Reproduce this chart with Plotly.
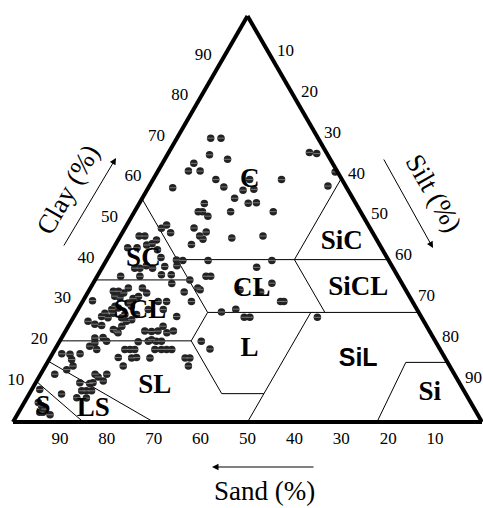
import plotly.graph_objects as go

# ---- sample data (sand, silt, clay in %) ----
SAND = [22.9, 20.7, 25.2, 21.9, 29.6, 31.7, 29.2, 26.9, 19.7, 12.9, 26.1, 37.1, 22.4, 20.0, 25.2, 22.9, 21.1, 32.3,
        34.6, 33.7, 33.1, 27.7, 18.6, 37.5, 35.4, 37.3, 37.0, 30.7, 23.8, 40.1, 3.6, 2.2, 0.5, 3.8, 38.5, 29.0, 24.9,
        45.2, 43.9, 45.8, 43.0, 44.5, 43.1, 50.2, 49.0, 47.0, 54.1, 52.1, 49.7, 48.4, 48.0, 48.2, 51.3, 48.5, 54.0,
        55.1, 55.0, 59.1, 50.2, 48.1, 49.1, 44.8, 44.1, 47.5, 47.1, 52.3, 40.9, 39.9, 43.8, 35.3, 31.2, 27.7, 28.1,
        27.4, 42.0, 38.6, 37.8, 36.6, 22.2, 68.1, 62.5, 61.4, 60.5, 58.9, 55.9, 55.6, 62.8, 61.9, 59.2, 57.8, 54.2,
        52.4, 60.8, 60.5, 64.0, 63.5, 67.0, 68.1, 66.9, 65.2, 62.9, 60.4, 57.3, 54.1, 52.1, 71.6, 70.5, 69.2, 67.2,
        66.7, 60.7, 59.3, 57.9, 56.2, 54.6, 56.2, 64.0, 63.4, 62.1, 65.1, 65.0, 66.6, 72.2, 70.4, 70.1, 72.8, 74.3,
        73.2, 67.2, 66.1, 65.1, 69.6, 66.8, 65.7, 69.6, 61.2, 60.3, 59.5, 58.4, 60.8, 59.4, 58.3, 57.2, 62.9, 63.4,
        55.4, 54.4, 55.7, 49.9, 49.0, 81.2, 79.5, 77.3, 79.8, 80.3, 82.1, 85.2, 76.6, 76.3, 74.1, 75.7, 78.1, 80.9,
        78.9, 81.5, 79.4, 80.5, 86.2, 83.4, 81.4, 90.3, 92.2, 91.9, 93.1, 92.4, 91.6, 91.2]
SILT = [7.2, 9.4, 9.0, 13.4, 6.7, 6.5, 9.0, 13.4, 20.6, 27.4, 16.0, 5.2, 20.5, 22.7, 19.7, 23.2, 24.9, 13.9,
        13.6, 14.5, 16.2, 20.5, 29.6, 14.7, 17.8, 16.9, 18.0, 24.0, 30.4, 16.2, 30.0, 31.7, 37.9, 38.1, 21.7, 32.9,
        35.3, 14.9, 16.3, 15.7, 8.5, 7.8, 10.3, 4.0, 5.2, 8.2, 3.0, 5.0, 6.7, 7.7, 9.6, 11.3, 10.8, 13.2, 8.1,
        7.0, 9.1, 5.0, 13.5, 15.6, 16.8, 20.2, 22.9, 20.5, 23.2, 9.2, 23.2, 24.2, 23.6, 32.1, 36.8, 38.1, 42.2,
        42.9, 30.9, 33.6, 36.4, 37.6, 52.0, 2.0, 5.3, 6.4, 7.7, 8.1, 11.1, 12.6, 6.2, 7.5, 10.4, 11.3, 16.1,
        17.9, 9.9, 11.0, 7.5, 8.4, 6.2, 5.9, 7.4, 8.0, 10.6, 13.1, 15.0, 18.2, 21.9, 3.6, 5.4, 7.0, 10.0,
        10.9, 16.9, 18.4, 19.7, 21.8, 23.0, 20.2, 10.3, 11.8, 12.7, 7.2, 11.4, 11.4, 7.1, 8.8, 10.0, 7.7, 7.0,
        8.9, 14.9, 16.0, 17.0, 14.5, 17.4, 18.4, 16.6, 18.9, 19.4, 20.6, 21.7, 21.3, 22.7, 23.8, 24.9, 21.3, 16.8,
        28.8, 29.8, 30.5, 30.2, 33.0, 2.0, 3.8, 5.9, 4.8, 5.9, 5.0, 3.0, 11.6, 12.6, 14.1, 14.2, 12.2, 9.4,
        11.6, 10.8, 12.9, 11.8, 6.9, 10.6, 12.7, 1.7, 3.0, 4.1, 4.5, 5.2, 5.2, 7.0]
CLAY = [69.9, 69.9, 65.8, 64.7, 63.7, 61.8, 61.8, 59.7, 59.7, 59.7, 57.9, 57.7, 57.1, 57.3, 55.1, 53.9, 54.0, 53.8,
        51.8, 51.8, 50.7, 51.8, 51.8, 47.8, 46.8, 45.8, 45.0, 45.3, 45.8, 43.7, 66.4, 66.1, 61.6, 58.1, 39.8, 38.1,
        39.8, 39.9, 39.8, 38.5, 48.5, 47.7, 46.6, 45.8, 45.8, 44.8, 42.9, 42.9, 43.6, 43.9, 42.4, 40.5, 37.9, 38.3, 37.9,
        37.9, 35.9, 35.9, 36.3, 36.3, 34.1, 35.0, 33.0, 32.0, 29.7, 38.5, 35.9, 35.9, 32.6, 32.6, 32.0, 34.2, 29.7,
        29.7, 27.1, 27.8, 25.8, 25.8, 25.8, 29.9, 32.2, 32.2, 31.8, 33.0, 33.0, 31.8, 31.0, 30.6, 30.4, 30.9, 29.7,
        29.7, 29.3, 28.5, 28.5, 28.1, 26.8, 26.0, 25.7, 26.8, 26.5, 26.5, 27.7, 27.7, 26.0, 24.8, 24.1, 23.8, 22.8,
        22.4, 22.4, 22.3, 22.4, 22.0, 22.4, 23.6, 25.7, 24.8, 25.2, 27.7, 23.6, 22.0, 20.7, 20.8, 19.9, 19.5, 18.7,
        17.9, 17.9, 17.9, 17.9, 15.9, 15.8, 15.9, 13.8, 19.9, 20.3, 19.9, 19.9, 17.9, 17.9, 17.9, 17.9, 15.8, 19.8,
        15.8, 15.8, 13.8, 19.9, 18.0, 16.8, 16.7, 16.8, 15.4, 13.8, 12.9, 11.8, 11.8, 11.1, 11.8, 10.1, 9.7, 9.7,
        9.5, 7.7, 7.7, 7.7, 6.9, 6.0, 5.9, 8.0, 4.8, 4.0, 2.4, 2.4, 3.2, 1.8]

# ---- texture-class boundaries (sand, silt, clay) ----
B_SAND45 = [(45, 0, 55), (45, 15, 40), (45, 28, 27)]
B_CLAY40 = [(45, 15, 40), (0, 60, 40)]
B_SILT40 = [(0, 40, 60), (20, 40, 40)]
B_CLAY35 = [(65, 0, 35), (45, 20, 35)]
B_CLAY27 = [(45, 28, 27), (0, 73, 27)]
B_SAND20 = [(20, 40, 40), (20, 53, 27)]
B_CLAY20 = [(80, 0, 20), (52, 28, 20)]
B_LOAM = [(45, 28, 27), (52, 28, 20), (52, 41, 7), (43, 50, 7)]
B_SILT50 = [(23, 50, 27), (50, 50, 0)]
B_SILT = [(22.4, 77.6, 0), (8.9, 76.4, 14.7), (0, 85.3, 14.7)]
B_LS = [(85, 0, 15), (70, 30, 0)]
B_S = [(90, 0, 10), (85, 15, 0)]
BOUNDARIES = [B_SAND45, B_CLAY40, B_SILT40, B_CLAY35, B_CLAY27, B_SAND20,
              B_CLAY20, B_LOAM, B_SILT50, B_SILT, B_LS, B_S]

# ---- class labels (text, sand, silt, clay) ----
LABELS = ["C", "SiC", "SC", "CL", "SiCL", "SCL", "L", "Si", "SL", "LS", "S"]
LAB_SAND = [19.7, 7.8, 52.2, 32.7, 9.9, 59.3, 40.6, 7.6, 65.3, 81.3, 91.8]
LAB_SILT = [20.7, 48.0, 7.8, 34.5, 57.1, 13.5, 41.5, 85.3, 25.8, 15.5, 4.6]
LAB_CLAY = [59.6, 44.2, 40.0, 32.8, 33.0, 27.2, 17.9, 7.1, 8.9, 3.2, 3.6]
SIL_LABEL = ("SiL", 18.7, 65.9, 15.4)

TICKS = [10, 20, 30, 40, 50, 60, 70, 80, 90]

W, H = 483, 508
# screen box of the triangle (left, right, top, bottom)
TL, TR, TT, TB = 13, 482, 15, 423

def px(x):
    return x / W

def py(y):
    return 1 - y / H

fig = go.Figure()

for seg in BOUNDARIES:
    fig.add_trace(go.Scatterternary(
        b=[p[0] for p in seg], c=[p[1] for p in seg], a=[p[2] for p in seg],
        mode="lines", line=dict(color="black", width=1), hoverinfo="skip", showlegend=False))

# dark dots with a faint light stripe (as in the scanned figure)
fig.add_trace(go.Scatterternary(
    b=SAND, c=SILT, a=CLAY, mode="markers",
    marker=dict(size=7.5, color="#232323", line=dict(width=0)), showlegend=False))
fig.add_trace(go.Scatterternary(
    b=SAND, c=SILT, a=CLAY, mode="markers", hoverinfo="skip",
    marker=dict(size=5, symbol="line-ew", color="#777777", line=dict(width=1, color="#777777")),
    showlegend=False))

fig.add_trace(go.Scatterternary(
    b=LAB_SAND, c=LAB_SILT, a=LAB_CLAY, mode="text", text=LABELS,
    textposition="middle center",
    textfont=dict(family="Liberation Serif", size=27, color="black", weight="bold"),
    showlegend=False, hoverinfo="skip"))
fig.add_trace(go.Scatterternary(
    b=[SIL_LABEL[1]], c=[SIL_LABEL[2]], a=[SIL_LABEL[3]], mode="text", text=[SIL_LABEL[0]],
    textposition="middle center",
    textfont=dict(family="Liberation Sans", size=25, color="black", weight="bold"),
    showlegend=False, hoverinfo="skip"))

tickfont = dict(family="Liberation Serif", size=17, color="black")

def axis(ticklen, show=True):
    return dict(
        tickvals=TICKS, ticktext=[str(t) for t in TICKS], showticklabels=show,
        ticks="outside" if ticklen else "", ticklen=ticklen, tickcolor="rgba(0,0,0,0)",
        showgrid=False, linecolor="black", linewidth=4, title=dict(text=""),
        tickfont=tickfont, min=0)

fig.update_layout(
    width=W, height=H, paper_bgcolor="white", plot_bgcolor="white",
    margin=dict(l=0, r=0, t=0, b=0),
    ternary=dict(
        sum=100, bgcolor="white",
        domain=dict(x=[px(TL), px(TR)], y=[py(TB), py(TT)]),
        aaxis=axis(8), baxis=axis(0), caxis=axis(0, show=False)),
)

# silt tick labels beside the right edge
apex_x = (TL + TR) / 2
for t in TICKS:
    frac = (100 - t) / 100          # clay fraction on the right edge
    ex = TR - frac * (TR - apex_x)
    ey = TB - frac * (TB - TT)
    fig.add_annotation(x=px(ex + 15), y=py(ey - 5), xref="paper", yref="paper", text=str(t),
                       xanchor="center", yanchor="middle", showarrow=False, font=tickfont)

serif = dict(family="Liberation Serif", size=27, color="black")
fig.add_annotation(x=px(67.5), y=py(190), xref="paper", yref="paper", text="Clay (%)",
                   xanchor="center", yanchor="middle", textangle=-60, showarrow=False, font=serif)
fig.add_annotation(x=px(434), y=py(192.5), xref="paper", yref="paper", text="Silt (%)",
                   xanchor="center", yanchor="middle", textangle=60, showarrow=False, font=serif)
fig.add_annotation(x=px(264), y=py(491), xref="paper", yref="paper", text="Sand (%)",
                   xanchor="center", yanchor="middle", showarrow=False, font=serif, borderpad=0)
# direction arrows (head at x,y; tail offset in px)
arrow = dict(xref="paper", yref="paper", text="", showarrow=True, arrowhead=2,
             arrowsize=1.3, arrowwidth=1, arrowcolor="black")
fig.add_annotation(x=px(116), y=py(158), ax=63 - 116, ay=247 - 158, **arrow)
fig.add_annotation(x=px(433), y=py(248), ax=383 - 433, ay=158 - 248, **arrow)
fig.add_annotation(x=px(212), y=py(467), ax=315 - 212, ay=0, **arrow)

fig.write_html(
    "out.html",
    config={"displayModeBar": False},
    post_script="document.body.style.margin='0px';"
                "document.documentElement.style.overflow='hidden';"
                "document.body.style.overflow='hidden';")
